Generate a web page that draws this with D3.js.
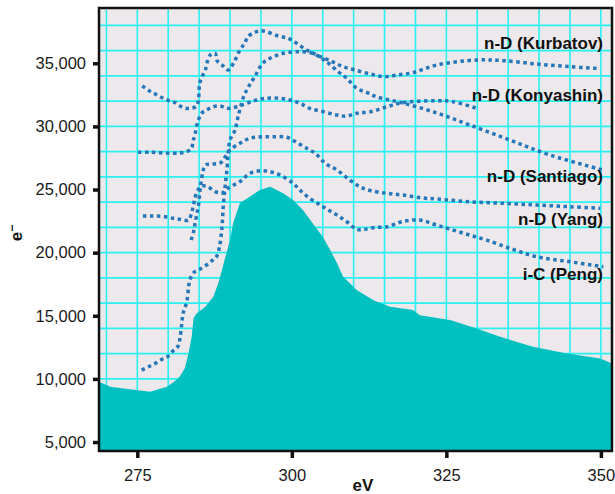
<!DOCTYPE html>
<html>
<head>
<meta charset="utf-8">
<script src="https://cdn.jsdelivr.net/npm/d3@7"></script>
<style>
  body { margin: 0; background: #fff; }
  svg { display: block; font-family: "Liberation Sans", Arial, sans-serif; }
</style>
</head>
<body>
<svg id="chart" width="615" height="494"></svg>
<script>
// measured spectrum (filled)
const spectrumEv = [268.8, 270.6, 273.8, 277.1, 279.8, 281.1, 281.9, 282.7, 283.3, 283.8, 284.1, 284.6, 286.0, 287.3, 288.1, 288.7, 289.2, 290.0, 290.5, 291.6, 293.2, 294.8, 296.5, 298.6, 300.2, 301.8, 303.4, 305.0, 306.2, 307.3, 308.3, 310.5, 313.2, 315.9, 319.6, 320.7, 325.6, 329.9, 333.7, 339.0, 344.5, 349.9, 351.8];
const spectrumCounts = [9770, 9370, 9190, 8980, 9370, 9830, 10220, 10860, 12050, 13340, 14820, 15190, 15710, 16500, 17570, 18620, 19570, 21000, 22340, 23930, 24430, 24960, 25220, 24700, 24170, 23380, 22320, 21260, 20210, 19180, 18090, 17040, 16240, 15710, 15450, 15050, 14660, 14000, 13340, 12540, 12020, 11620, 11230];

// reference spectra (dotted)
const kurbatovEv = [275.8, 276.9, 277.9, 279.0, 280.1, 281.1, 282.3, 283.5, 284.6, 284.9, 285.1, 285.6, 286.0, 286.3, 286.8, 287.6, 287.9, 288.7, 289.7, 290.6, 291.6, 292.4, 292.9, 293.9, 294.9, 295.9, 297.8, 299.4, 300.8, 302.4, 304.0, 306.5, 308.3, 310.2, 312.7, 314.8, 317.0, 319.6, 323.5, 329.9, 334.2, 339.6, 345.0, 349.3];
const kurbatovCounts = [33220, 32830, 32570, 32270, 32040, 31880, 31510, 31430, 31620, 32170, 33420, 34070, 34470, 35080, 35660, 35790, 35210, 34870, 34470, 35050, 36050, 36610, 37110, 37420, 37580, 37500, 37160, 36980, 36580, 36050, 35660, 35130, 34730, 34470, 34150, 33940, 34070, 34260, 34870, 35260, 35210, 34940, 34730, 34600];

const konyashinEv = [275.1, 277.1, 279.5, 281.9, 283.2, 283.8, 284.0, 284.3, 284.8, 285.4, 286.2, 287.3, 288.4, 289.7, 291.1, 292.7, 294.3, 295.9, 298.1, 299.7, 301.3, 302.9, 305.1, 307.3, 308.9, 310.5, 312.7, 315.4, 318.0, 323.4, 326.1, 329.9];
const konyashinCounts = [27950, 27950, 27890, 27890, 28050, 28290, 28790, 29320, 30370, 31040, 31300, 31560, 31620, 31430, 31560, 31830, 32090, 32230, 32230, 32090, 31830, 31430, 31160, 30900, 30820, 31040, 31160, 31560, 31880, 32040, 31960, 31430];

const santiagoEv = [275.7, 276.8, 277.9, 279.0, 280.0, 280.8, 281.6, 281.9, 282.2, 282.4, 283.0, 283.3, 283.5, 284.1, 285.1, 286.2, 287.2, 287.8, 288.3, 288.7, 288.9, 289.2, 289.5, 289.7, 290.0, 290.8, 291.3, 292.2, 293.0, 294.0, 295.3, 296.5, 298.6, 301.3, 303.4, 304.8, 305.9, 307.5, 308.9, 310.5, 312.3, 313.7, 318.0, 323.5, 328.8, 335.3, 341.8, 350.4];
const santiagoCounts = [10700, 10960, 11230, 11550, 11810, 12230, 12600, 13210, 14400, 15190, 16110, 17300, 17830, 18410, 18680, 19020, 19410, 19680, 20470, 22050, 23640, 25220, 26550, 27890, 28920, 29710, 30770, 32350, 33150, 33940, 35020, 35400, 35790, 35920, 35790, 35400, 35020, 34330, 33810, 33020, 32650, 32350, 31850, 31060, 30110, 28920, 27730, 26540];

const yangEv = [283.7, 284.1, 284.3, 284.6, 284.9, 285.1, 285.3, 285.6, 286.0, 287.1, 288.4, 289.2, 290.0, 291.6, 293.2, 295.1, 297.0, 299.2, 301.0, 302.6, 303.8, 305.4, 307.3, 309.4, 311.0, 312.7, 315.4, 318.0, 321.2, 323.5, 328.8, 334.2, 339.7, 345.0, 349.9];
const yangCounts = [21000, 21660, 22190, 22980, 23770, 24720, 25510, 26390, 26940, 27020, 27100, 27580, 28130, 28660, 29060, 29180, 29180, 29140, 28660, 28210, 27870, 27080, 26550, 25750, 25220, 24920, 24700, 24560, 24330, 24250, 24030, 23910, 23770, 23640, 23510];

const pengEv = [275.9, 277.1, 278.1, 279.5, 280.8, 281.9, 283.3, 283.8, 284.1, 284.3, 284.8, 285.4, 286.4, 287.6, 288.7, 289.7, 291.6, 293.2, 294.9, 296.5, 298.1, 300.2, 301.3, 302.9, 304.6, 305.9, 307.3, 308.9, 310.5, 311.8, 313.5, 315.4, 317.8, 320.7, 323.4, 326.1, 328.8, 331.5, 335.3, 339.6, 345.0, 350.4];
const pengCounts = [22900, 22900, 22900, 22850, 22720, 22640, 22580, 23240, 23770, 24300, 24960, 25280, 25220, 24830, 24720, 25120, 25630, 26280, 26490, 26410, 26150, 25490, 24960, 24300, 23770, 23380, 22980, 22450, 21850, 21850, 22000, 22050, 22450, 22580, 22190, 21790, 21390, 21000, 20340, 19680, 19280, 18880];

const seriesNames = ["n-D (Kurbatov)", "n-D (Konyashin)", "n-D (Santiago)", "n-D (Yang)", "i-C (Peng)"];
const labelCounts = [36100, 32050, 25600, 22200, 17800];

const xTicks = [275, 300, 325, 350];
const yTicks = [5000, 10000, 15000, 20000, 25000, 30000, 35000];

const series = [
  d3.zip(kurbatovEv, kurbatovCounts),
  d3.zip(konyashinEv, konyashinCounts),
  d3.zip(santiagoEv, santiagoCounts),
  d3.zip(yangEv, yangCounts),
  d3.zip(pengEv, pengCounts)
];
const spectrum = d3.zip(spectrumEv, spectrumCounts);

const svg = d3.select("#chart");
const m = { left: 99, right: 612, top: 8, bottom: 451 };

const x = d3.scaleLinear().domain([268.8, 351.8]).range([m.left, m.right]);
const y = d3.scaleLinear().domain([4290, 39380]).range([m.bottom, m.top]);

svg.append("defs").append("clipPath").attr("id", "plot")
  .append("rect")
  .attr("x", m.left).attr("y", m.top)
  .attr("width", m.right - m.left).attr("height", m.bottom - m.top);

svg.append("rect")
  .attr("x", m.left).attr("y", m.top)
  .attr("width", m.right - m.left).attr("height", m.bottom - m.top)
  .attr("fill", "#ede8ec");

const plot = svg.append("g").attr("clip-path", "url(#plot)");

// grid: every 5 eV and every 2,000 counts
plot.selectAll(".vgrid")
  .data(d3.range(270, 355, 5))
  .join("line")
  .attr("x1", d => x(d)).attr("x2", d => x(d))
  .attr("y1", m.top).attr("y2", m.bottom)
  .attr("stroke", "#2af0f0").attr("stroke-width", 1.6);

plot.selectAll(".hgrid")
  .data(d3.range(6000, 40000, 2000))
  .join("line")
  .attr("x1", m.left).attr("x2", m.right)
  .attr("y1", d => y(d)).attr("y2", d => y(d))
  .attr("stroke", "#2af0f0").attr("stroke-width", 1.6);

const area = d3.area()
  .x(d => x(d[0]))
  .y0(m.bottom)
  .y1(d => y(d[1]));

plot.append("path")
  .datum(spectrum)
  .attr("d", area)
  .attr("fill", "#00c0c0");

const line = d3.line()
  .x(d => x(d[0]))
  .y(d => y(d[1]))
  .curve(d3.curveCatmullRom.alpha(0.5));

plot.selectAll(".ref")
  .data(series)
  .join("path")
  .attr("d", line)
  .attr("fill", "none")
  .attr("stroke", "#2676b8")
  .attr("stroke-width", 3.5)
  .attr("stroke-dasharray", "3.5 3.5");

svg.selectAll(".lbl")
  .data(seriesNames)
  .join("text")
  .attr("x", 603)
  .attr("y", (d, i) => y(labelCounts[i]))
  .attr("text-anchor", "end")
  .attr("font-size", 17)
  .attr("font-weight", "bold")
  .attr("fill", "#111")
  .text(d => d);

// frame
svg.append("rect")
  .attr("x", m.left).attr("y", m.top)
  .attr("width", m.right - m.left).attr("height", m.bottom - m.top)
  .attr("fill", "none")
  .attr("stroke", "#111").attr("stroke-width", 2.5);

const yAxis = svg.append("g")
  .attr("transform", `translate(${m.left},0)`)
  .call(d3.axisLeft(y).tickValues(yTicks).tickFormat(d3.format(",")).tickSize(6).tickPadding(7));

const xAxis = svg.append("g")
  .attr("transform", `translate(0,${m.bottom})`)
  .call(d3.axisBottom(x).tickValues(xTicks).tickSize(7).tickPadding(11));

[xAxis, yAxis].forEach(a => {
  a.select(".domain").remove();
  a.selectAll(".tick line").attr("stroke", "#111").attr("stroke-width", 3.5);
  a.selectAll(".tick text").attr("font-size", 16.5).attr("fill", "#1a1a1a")
    .attr("font-family", "Liberation Sans, Arial, sans-serif");
});

svg.append("text")
  .attr("x", 363).attr("y", 491)
  .attr("text-anchor", "middle")
  .attr("font-size", 17).attr("font-weight", "bold")
  .attr("fill", "#111")
  .text("eV");

const yl = svg.append("text")
  .attr("transform", "translate(22,233) rotate(-90)")
  .attr("text-anchor", "middle")
  .attr("font-size", 17).attr("font-weight", "bold")
  .attr("fill", "#111");
yl.append("tspan").text("e");
yl.append("tspan").attr("dy", -6).attr("font-size", 12).text("\u2212");
</script>
</body>
</html>
